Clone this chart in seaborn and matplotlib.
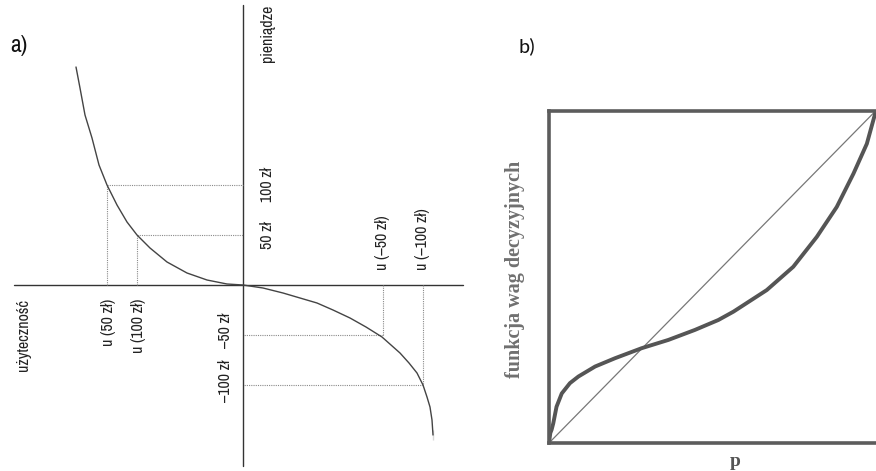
import matplotlib
matplotlib.use("Agg")
import matplotlib.pyplot as plt
from matplotlib import font_manager
import seaborn as sns
import pandas as pd

# ---- data: panel a (value function; money on the vertical axis, utility on the horizontal) ----
curve_u = [-167, -163, -158, -151, -144, -136, -126, -116, -106, -93, -76, -56, -36, -16, 0,
           20, 40, 57, 74, 90, 107, 123, 139, 148, 157, 166, 174, 180, 184, 187, 189, 190, 190]
curve_m = [218, 197, 170, 147, 120, 100, 80, 63, 50, 37, 23, 12, 5, 1, 0,
           -3, -8, -13, -18, -25, -33, -42, -52, -60, -68, -78, -88, -100, -112, -122, -135, -145, -155]
money_levels = [100, 50, -50, -100]
utility_at_level = [-136, -106, 140, 180]
money_labels = ["100 zł", "50 zł", "–50 zł", "–100 zł"]
utility_labels = ["u (50 zł)", "u (100 zł)", "u (–50 zł)", "u (–100 zł)"]

# ---- data: panel b (probability weighting function) ----
p_vals = [0, 0.004, 0.008, 0.013, 0.023, 0.039, 0.064, 0.090, 0.141, 0.202, 0.283, 0.365, 0.446,
          0.518, 0.564, 0.666, 0.747, 0.819, 0.880, 0.931, 0.972, 1.0]
w_vals = [0, 0.03, 0.04, 0.059, 0.109, 0.149, 0.18, 0.20, 0.23, 0.255, 0.285, 0.31, 0.34,
          0.37, 0.395, 0.46, 0.53, 0.62, 0.71, 0.81, 0.90, 1.0]
diag = [0, 1]

sns.set_theme(style="white")
names = {f.name for f in font_manager.fontManager.ttflist}


def pick(prefs, default):
    for n in prefs:
        if n in names:
            return n
    return default


narrow = pick(["Liberation Sans Narrow", "Arial Narrow", "Archivo Narrow", "PT Sans Narrow",
               "Roboto Condensed", "Fira Sans Condensed", "IBM Plex Sans Condensed",
               "Pragati Narrow", "Barlow Condensed", "Asap Condensed"], "DejaVu Sans")
calibri = pick(["Carlito", "Calibri", "Open Sans"], "DejaVu Sans")
serif = [pick(["Liberation Serif", "Tinos", "Times New Roman"], "DejaVu Serif"), "DejaVu Serif"]
plt.rcParams["font.family"] = [narrow, "DejaVu Sans"]

fig = plt.figure(figsize=(8.76, 4.71), dpi=100)

# ---------------- panel a ----------------
axa = fig.add_axes([0, 0, 480 / 876, 1])
axa.set_xlim(-243, 237)
axa.set_ylim(-186, 285)
axa.axis("off")

axcol = "#333333"
axa.plot([-229, 220], [0, 0], color=axcol, lw=1.0)
axa.plot([0, 0], [-181, 280], color=axcol, lw=1.0)

for m, u in zip(money_levels, utility_at_level):
    axa.plot([u, 0], [m, m], color="#8a8a8a", lw=0.8, ls=(0, (1, 1)))
    axa.plot([u, u], [0, m], color="#8a8a8a", lw=0.8, ls=(0, (1, 1)))

dfa = pd.DataFrame({"u": curve_u, "m": curve_m})
sns.lineplot(data=dfa, x="u", y="m", sort=False, ax=axa, color="#444444", lw=1.0)

fs = 11.5
tc = "#222222"
for m, lab in zip(money_levels, money_labels):
    if m > 0:
        axa.text(24, m, lab, rotation=90, ha="center", va="center", fontsize=fs, color=tc)
    else:
        axa.text(-17, m + 4, lab, rotation=90, ha="center", va="center", fontsize=fs, color=tc)
for u, lab in zip(utility_at_level, utility_labels):
    if u < 0:
        axa.text(u + 1, -14, lab, rotation=90, ha="center", va="top", fontsize=fs, color=tc)
    else:
        axa.text(u - 1, 15, lab, rotation=90, ha="center", va="bottom", fontsize=fs, color=tc)
axa.text(24, 280, "pieniądze", rotation=90, ha="center", va="top", fontsize=fs, color=tc)
axa.text(-220, -14, "użyteczność", rotation=90, ha="center", va="top", fontsize=fs, color=tc)

fig.text(10 / 876, 1 - 46 / 471, "a)", fontsize=17, ha="left", va="center", color="#111111")
fig.text(519 / 876, 1 - 46 / 471, "b)", fontsize=15, ha="left", va="center", color="#111111",
         family=[calibri, "DejaVu Sans"])

# ---------------- panel b ----------------
left, right, top, bottom = 549, 876, 110.5, 443
axb = fig.add_axes([left / 876, (471 - bottom) / 471, (right - left) / 876, (bottom - top) / 471])
axb.set_xlim(0, 1)
axb.set_ylim(0, 1)
for s in axb.spines.values():
    s.set_color("#5c5c5c")
    s.set_linewidth(2.6)
axb.spines["right"].set_visible(False)

sns.lineplot(x=diag, y=diag, ax=axb, color="#777777", lw=0.9)
dfb = pd.DataFrame({"p": p_vals, "w": w_vals})
sns.lineplot(data=dfb, x="p", y="w", sort=False, ax=axb, color="#555555", lw=2.8)
axb.set_xticks([])
axb.set_yticks([])
axb.set_xlabel("")
axb.set_ylabel("")

fig.text(515 / 876, 1 - 269 / 471, "funkcja wag decyzyjnych", rotation=90, ha="center", va="center",
         family=serif, fontweight="bold", fontsize=14.5, color="#707070")
fig.text(735 / 876, 1 - 461 / 471, "p", ha="center", va="center",
         family=serif, fontweight="bold", fontsize=14, color="#555555")

fig.savefig("out.png", dpi=100)
